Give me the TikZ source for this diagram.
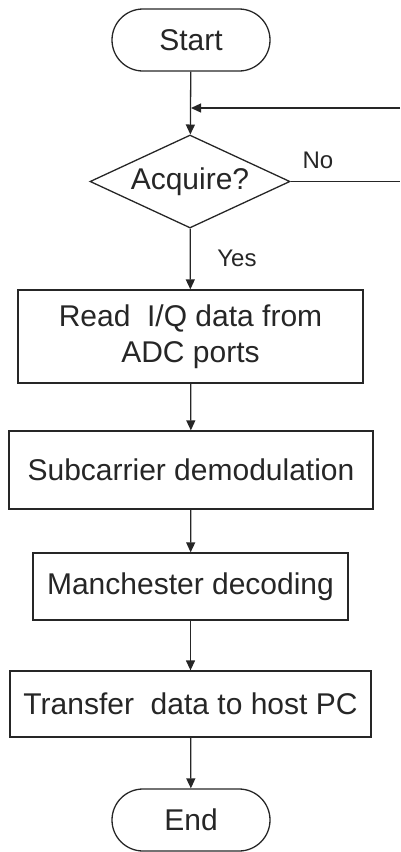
\documentclass[tikz,border=0pt]{standalone}
\usepackage{fontspec}
\setmainfont{Liberation Sans}
\usetikzlibrary{shapes.geometric,arrows.meta}
\begin{document}
\begin{tikzpicture}[x=1pt,y=-1pt,
  every node/.style={font=\fontsize{30}{36}\selectfont, text=black!85},
  base/.style={draw=black!85, line width=1.3pt, inner sep=0pt},
  term/.style={base, rounded corners=31pt, minimum width=158pt, minimum height=62pt},
  proc/.style={base, rectangle, align=center},
  dec/.style={base, diamond, minimum width=200pt, minimum height=93pt, aspect=2.15},
  conn/.style={draw=black!85, line width=1.3pt},
  arr/.style={conn, -{Triangle[width=9pt,length=10pt]}},
  lbl/.style={font=\fontsize{24}{28}\selectfont}
]
\useasboundingbox (0,0) rectangle (400,852);
\node[term] (start) at (191,40) {Start};
\node[dec] (acq) at (190,181.5) {Acquire?};
\node[proc, minimum width=345pt, minimum height=93pt] (b1) at (190.5,336.5) {Read\ \ I/Q data from\\ADC ports};
\node[proc, minimum width=364pt, minimum height=78pt] (b2) at (191,470) {Subcarrier demodulation};
\node[proc, minimum width=315pt, minimum height=67pt] (b3) at (190.5,586.5) {Manchester decoding};
\node[proc, minimum width=361pt, minimum height=66pt] (b4) at (190.5,704) {Transfer\ \ data to host PC};
\node[term] (stop) at (191,820) {End};

\coordinate (loopin) at (400,108);
\coordinate (join) at (191,108);
\coordinate (noend) at (400,181.5);

\draw[arr] (start) -- (acq);
\draw[arr] (loopin) -- (join);
\draw[conn] (acq.east) -- (noend);
\draw[arr] (acq) -- (b1);
\draw[arr] (b1) -- (b2);
\draw[arr] (b2) -- (b3);
\draw[arr] (b3) -- (b4);
\draw[arr] (b4) -- (stop);

\node[lbl] (no) at (318,160) {No};
\node[lbl] (yes) at (237,258) {Yes};
\end{tikzpicture}
\end{document}
